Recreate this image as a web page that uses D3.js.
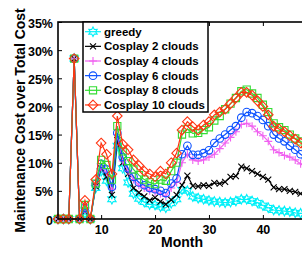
<!DOCTYPE html>
<html>
<head>
<meta charset="utf-8">
<script src="https://cdn.jsdelivr.net/npm/d3@7"></script>
<style>
  html, body { margin: 0; padding: 0; background: #fff; }
  svg { display: block; font-family: "Liberation Sans", Arial, sans-serif; font-weight: bold; }
</style>
</head>
<body>
<div id="chart"></div>
<script>
// months on the x axis
var months = d3.range(2, 49);

var greedy = [0, 0, 0, 28.5, 0, 1.0, 0, 5.5, 8.5, 6.8, 3.5, 13.0, 9.0, 6.5, 4.5, 3.6, 3.0, 2.6, 2.5, 2.2, 2.0, 2.8, 3.5,
  5.2, 5.0, 4.0, 3.7, 3.5, 3.3, 3.1, 3.0, 2.9, 3.0, 3.2, 3.5, 3.5, 3.2, 2.9, 2.4, 2.0, 1.6, 1.5, 1.4, 1.3, 1.1, 1.0, 1.0];
var cosplay2 = [0, 0, 0, 28.5, 0, 1.5, 0, 5.8, 9.0, 7.5, 4.3, 14.0, 10.0, 8.0, 5.5, 4.7, 4.0, 3.3, 3.8, 3.1, 2.6, 3.4, 4.3,
  6.0, 7.7, 5.9, 5.8, 6.0, 5.9, 6.4, 6.3, 6.6, 7.5, 7.6, 9.3, 9.0, 8.5, 8.0, 7.5, 7.0, 5.6, 5.3, 5.3, 5.0, 4.8, 4.5, 4.2];
var cosplay4 = [0, 0, 0, 28.5, 0, 1.8, 0, 6.0, 9.3, 8.3, 5.3, 15.0, 10.3, 8.5, 7.0, 6.0, 5.5, 5.0, 4.8, 4.5, 4.0, 5.5, 6.5,
  10.0, 11.5, 10.5, 10.3, 10.5, 11.0, 11.5, 12.5, 13.5, 14.5, 15.5, 16.8, 17.0, 16.5, 15.5, 14.8, 13.8, 12.3, 11.8, 11.3, 11.0, 10.5, 9.8, 9.2];
var cosplay6 = [0, 0, 0, 28.5, 0, 2.0, 0, 6.2, 9.8, 8.8, 5.7, 15.3, 11.0, 9.0, 7.5, 6.5, 6.0, 5.5, 5.3, 5.0, 4.6, 6.3, 7.2,
  11.5, 13.0, 11.4, 11.4, 11.7, 12.2, 13.5, 14.3, 15.0, 15.8, 16.5, 18.0, 19.0, 18.8, 18.3, 17.6, 16.5, 15.0, 14.3, 13.8, 13.0, 12.3, 11.5, 10.8];
var cosplay8 = [0, 0, 0, 28.5, 0, 2.5, 0, 6.3, 10.5, 9.6, 7.0, 16.5, 12.0, 10.3, 8.8, 7.8, 7.0, 6.5, 6.2, 7.0, 6.8, 8.5, 10.0,
  15.0, 16.0, 15.2, 15.3, 15.8, 16.3, 17.5, 18.3, 19.5, 20.5, 21.5, 22.7, 23.0, 22.3, 21.5, 20.3, 19.0, 17.0, 16.3, 15.8, 15.0, 14.3, 13.8, 13.0];
var cosplay10 = [0, 0, 0, 28.5, 0, 3.3, 0, 7.0, 13.5, 11.5, 8.0, 18.3, 13.3, 12.3, 10.5, 9.5, 8.5, 8.0, 7.5, 8.5, 8.0, 10.0, 11.7,
  15.8, 17.3, 16.4, 15.8, 16.7, 17.3, 18.5, 19.0, 19.5, 20.5, 21.5, 22.5, 22.5, 22.0, 21.0, 20.0, 18.5, 16.5, 16.0, 15.5, 14.8, 14.2, 13.5, 12.8];

var seriesNames = ['greedy', 'Cosplay 2 clouds', 'Cosplay 4 clouds', 'Cosplay 6 clouds', 'Cosplay 8 clouds', 'Cosplay 10 clouds'];
var seriesValues = [greedy, cosplay2, cosplay4, cosplay6, cosplay8, cosplay10];
var seriesColors = ['#00f0f8', '#000000', '#f060f0', '#0a50ff', '#33dd33', '#ff3311'];
var seriesMarkers = ['hexagram', 'x', 'plus', 'circle', 'square', 'diamond'];

var xTicks = [10, 20, 30, 40];
var yTicks = [0, 5, 10, 15, 20, 25, 30, 35];

var width = 302, height = 255;
var plot = { left: 58, top: 22, right: 306, bottom: 219 };

var x = d3.scaleLinear().domain([2, 48]).range([plot.left, plot.right]);
var y = d3.scaleLinear().domain([0, 35]).range([plot.bottom, plot.top]);

var svg = d3.select('#chart').append('svg')
  .attr('width', width)
  .attr('height', height);

// marker path centred on 0,0
function markerPath(type) {
  var p = d3.path();
  if (type === 'circle') {
    p.arc(0, 0, 3.8, 0, Math.PI * 2);
  } else if (type === 'square') {
    p.rect(-3.6, -3.6, 7.2, 7.2);
  } else if (type === 'diamond') {
    p.moveTo(0, -4.8); p.lineTo(4.8, 0); p.lineTo(0, 4.8); p.lineTo(-4.8, 0); p.closePath();
  } else if (type === 'plus') {
    p.moveTo(-4, 0); p.lineTo(4, 0); p.moveTo(0, -4); p.lineTo(0, 4);
  } else if (type === 'x') {
    p.moveTo(-3, -3); p.lineTo(3, 3); p.moveTo(-3, 3); p.lineTo(3, -3);
  } else if (type === 'hexagram') {
    var r1 = 4.8, r2 = 2.6;
    for (var i = 0; i < 12; i++) {
      var a = -Math.PI / 2 + i * Math.PI / 6;
      var r = i % 2 === 0 ? r1 : r2;
      if (i === 0) p.moveTo(r * Math.cos(a), r * Math.sin(a));
      else p.lineTo(r * Math.cos(a), r * Math.sin(a));
    }
    p.closePath();
  }
  return p.toString();
}

// axes (ticks pointing inward, matlab style)
var xAxis = d3.axisBottom(x).tickValues(xTicks).tickSize(-4).tickSizeOuter(0).tickPadding(6);
var xAxisTop = d3.axisTop(x).tickValues(xTicks).tickSize(-4).tickSizeOuter(0).tickFormat('');
var yAxis = d3.axisLeft(y).tickValues(yTicks).tickSize(-4).tickSizeOuter(0).tickPadding(5)
  .tickFormat(function(d){ return d === 0 ? '0' : d + '%'; });

var gx = svg.append('g').attr('transform', 'translate(0,' + plot.bottom + ')').call(xAxis);
var gxt = svg.append('g').attr('transform', 'translate(0,' + plot.top + ')').call(xAxisTop);
var gy = svg.append('g').attr('transform', 'translate(' + plot.left + ',0)').call(yAxis);

[gx, gxt, gy].forEach(function(g){
  g.select('.domain').remove();
  g.selectAll('.tick line').attr('stroke', '#000').attr('stroke-width', 1);
  g.selectAll('.tick text')
    .attr('fill', '#000')
    .style('font-family', '"Liberation Sans", Arial, sans-serif')
    .style('font-weight', 'bold')
    .style('font-size', '12.5px');
});
gy.selectAll('.tick text').attr('dy', '0.4em');

// data lines and markers
var line = d3.line()
  .x(function(d){ return x(d.m); })
  .y(function(d){ return y(d.v); });

seriesValues.forEach(function(vals, si){
  var pts = vals.map(function(v, i){ return { m: months[i], v: v }; });
  var g = svg.append('g').classed('series', true);
  g.append('path')
    .datum(pts)
    .attr('d', line)
    .attr('fill', 'none')
    .attr('stroke', seriesColors[si])
    .attr('stroke-width', 1.2);
  g.selectAll('path.mk').data(pts).enter()
    .append('path')
    .classed('mk', true)
    .attr('transform', function(d){ return 'translate(' + x(d.m) + ',' + y(d.v) + ')'; })
    .attr('d', markerPath(seriesMarkers[si]))
    .attr('fill', 'none')
    .attr('stroke', seriesColors[si])
    .attr('stroke-width', 1.1);
});

// axes box
svg.append('rect')
  .attr('x', plot.left)
  .attr('y', plot.top)
  .attr('width', plot.right - plot.left)
  .attr('height', plot.bottom - plot.top)
  .attr('fill', 'none')
  .attr('stroke', '#000')
  .attr('stroke-width', 1.6);

// legend
var legend = svg.append('g').classed('legend', true);
legend.append('rect')
  .attr('x', 83)
  .attr('y', 22)
  .attr('width', 125)
  .attr('height', 90)
  .attr('fill', '#fff')
  .attr('stroke', '#000')
  .attr('stroke-width', 1.5);

var rows = legend.selectAll('g.row').data(seriesNames).enter()
  .append('g')
  .classed('row', true)
  .attr('transform', function(d, i){ return 'translate(0,' + (31.7 + i * 14.65) + ')'; });
rows.append('line')
  .attr('x1', 85).attr('x2', 101).attr('y1', 0).attr('y2', 0)
  .attr('stroke', function(d, i){ return seriesColors[i]; })
  .attr('stroke-width', 1.2);
rows.append('path')
  .attr('transform', 'translate(93,0)')
  .attr('d', function(d, i){ return markerPath(seriesMarkers[i]); })
  .attr('fill', 'none')
  .attr('stroke', function(d, i){ return seriesColors[i]; })
  .attr('stroke-width', 1.1);
rows.append('text')
  .attr('x', 104)
  .attr('y', 4)
  .style('font-size', '11.5px')
  .attr('fill', '#000')
  .text(function(d){ return d; });

// axis titles
svg.append('text')
  .attr('x', (plot.left + plot.right) / 2)
  .attr('y', 247)
  .attr('text-anchor', 'middle')
  .style('font-size', '14px')
  .text('Month');

svg.append('text')
  .attr('transform', 'translate(25,' + (plot.top + plot.bottom) / 2 + ') rotate(-90)')
  .attr('text-anchor', 'middle')
  .style('font-size', '14px')
  .text('Maintenance Cost over Total Cost');
</script>
</body>
</html>
